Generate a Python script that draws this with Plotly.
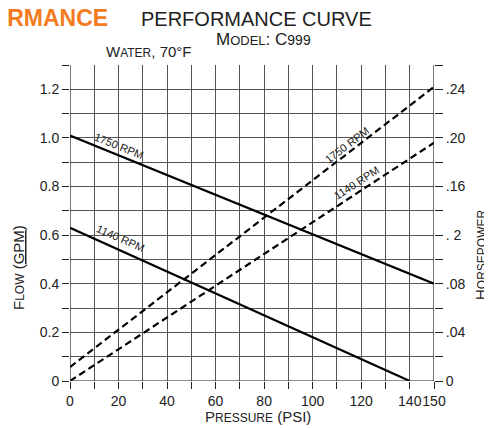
import plotly.graph_objects as go

# ---- data ----
flow_1750_psi = [0, 150]
flow_1750_gpm = [1.01, 0.40]
flow_1140_psi = [0, 140]
flow_1140_gpm = [0.63, 0.0]
hp_1750_psi = [0, 150]
hp_1750_hp = [0.0115, 0.242]
hp_1140_psi = [0, 150]
hp_1140_hp = [0.0, 0.196]

x_tickvals = [0, 10, 20, 30, 40, 50, 60, 70, 80, 90, 100, 110, 120, 130, 140, 150]
x_ticktext = ["0", "", "20", "", "40", "", "60", "", "80", "", "100", "", "120", "", "140", "150"]
y_tickvals = [0, 0.1, 0.2, 0.3, 0.4, 0.5, 0.6, 0.7, 0.8, 0.9, 1.0, 1.1, 1.2, 1.3]
y_ticktext = ["0", "", "0.2", "", "0.4", "", "0.6", "", "0.8", "", "1.0", "", "1.2", ""]
y2_tickvals = [0, 0.02, 0.04, 0.06, 0.08, 0.10, 0.12, 0.14, 0.16, 0.18, 0.20, 0.22, 0.24, 0.26]
y2_ticktext = ["0", "", ".04", "", ".08", "", ". 2", "", ".16", "", ".20", "", ".24", ""]

FONT = "Liberation Sans"
INK = "#222222"
GRID = "#555555"

# the page puts the figure 8px in from the top-left corner
OFF = 8
W, H = 492, 428
L, R, T, B = 70 - OFF, W - (434 - OFF), 65 - OFF, H - (381 - OFF)

fig = go.Figure()
line_solid = dict(color="black", width=2.2)
line_dash = dict(color="black", width=2.2, dash="7px,4px")

fig.add_trace(go.Scatter(x=flow_1750_psi, y=flow_1750_gpm, mode="lines", line=line_solid, showlegend=False))
fig.add_trace(go.Scatter(x=flow_1140_psi, y=flow_1140_gpm, mode="lines", line=line_solid, showlegend=False))
fig.add_trace(go.Scatter(x=hp_1750_psi, y=hp_1750_hp, mode="lines", line=line_dash, yaxis="y2", showlegend=False))
fig.add_trace(go.Scatter(x=hp_1140_psi, y=hp_1140_hp, mode="lines", line=line_dash, yaxis="y2", showlegend=False))

axis_common = dict(showline=False, zeroline=False, showgrid=True, gridcolor=GRID, gridwidth=1,
                   ticks="outside", ticklen=7, tickcolor=INK, tickwidth=1, automargin=False,
                   tickfont=dict(family=FONT, size=14, color=INK), tickmode="array")

fig.update_layout(
    width=W, height=H,
    margin=dict(l=L, r=R, t=T, b=B),
    paper_bgcolor="white", plot_bgcolor="white",
    xaxis=dict(range=[0, 150], tickvals=x_tickvals, ticktext=x_ticktext, tickangle=0, **axis_common),
    yaxis=dict(range=[0, 1.3], tickvals=y_tickvals, ticktext=y_ticktext, **axis_common),
    yaxis2=dict(range=[0, 0.26], overlaying="y", side="right", tickvals=y2_tickvals,
                ticktext=y2_ticktext, showgrid=False, zeroline=False, showline=False,
                ticks="outside", ticklen=8, tickcolor=INK, automargin=False,
                tickfont=dict(family=FONT, size=14, color=INK), tickmode="array"),
)

# frame lines (axis at 0 and 150, base line)
fig.add_shape(type="line", xref="x", yref="paper", x0=150, x1=150, y0=0, y1=1,
              line=dict(color=INK, width=1.2))
fig.add_shape(type="line", xref="x", yref="paper", x0=0, x1=0, y0=0, y1=1,
              line=dict(color=INK, width=1.2))
fig.add_shape(type="line", xref="paper", yref="y", x0=0, x1=1, y0=0, y1=0,
              line=dict(color=INK, width=1.2))

def ann(text, x, y, size, angle=0, color=INK, family=FONT, xanchor="center", yanchor="middle"):
    fig.add_annotation(text=text, x=x, y=y, xref="paper", yref="paper", showarrow=False,
                       textangle=angle, xanchor=xanchor, yanchor=yanchor,
                       font=dict(family=family, size=size, color=color))

def px(xp, yp):
    # screenshot pixel -> paper coords
    fx, fy = xp - OFF, yp - OFF
    return (fx - L) / (W - L - R), (H - B - fy) / (H - T - B)

def sc(big, small, s=11):
    return big + "<span style='font-size:%dpx'>%s</span>" % (s, small)

# orange brand word, cut off on the left
x, y = px(110, 18)
ann("<b>PERFORMANCE</b>", x, y, 23, color="#F47B20", xanchor="right")
x, y = px(257, 19)
ann("PERFORMANCE CURVE", x, y, 20)
x, y = px(263, 39)
ann(sc("M", "ODEL", 13) + ": C" + "<span style='font-size:14px'>999</span>", x, y, 17)
x, y = px(148, 51)
ann(sc("W", "ATER", 12) + ", 70°F", x, y, 15)
x, y = px(258, 416)
ann(sc("P", "RESSURE", 12) + " (PSI)", x, y, 15)
x, y = px(18, 268)
ann(sc("F", "LOW", 12) + " (<u>GPM</u>)", x, y, 15, angle=-90)
x, y = px(480, 255)
ann(sc("H", "ORSEPOWER", 12), x, y, 15, angle=-90)

# curve labels
x, y = px(119, 146)
ann("1750 RPM", x, y, 11, angle=22)
x, y = px(120, 238)
ann("1140 RPM", x, y, 11, angle=24)
x, y = px(347, 145)
ann("1750 RPM", x, y, 11, angle=-37)
x, y = px(356, 183)
ann("1140 RPM", x, y, 11, angle=-33)

fig.write_html("out.html")
